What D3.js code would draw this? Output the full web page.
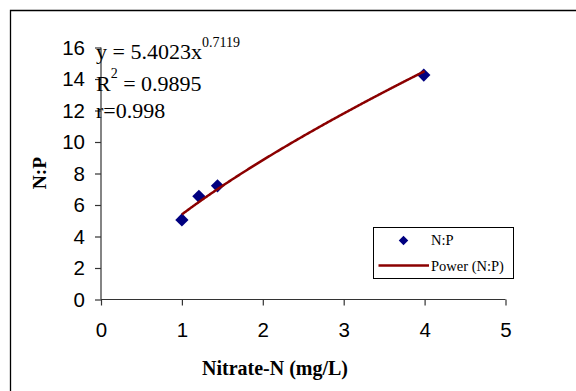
<!DOCTYPE html>
<html><head><meta charset="utf-8">
<script src="https://cdn.jsdelivr.net/npm/d3@7"></script>
<style>html,body{margin:0;padding:0;background:#fff;}svg{display:block;}</style>
</head><body>
<svg id="c" width="576" height="391"></svg>
<script>
const nitrate = [1.0, 1.21, 1.44, 3.99];
const ratioNP = [5.05, 6.55, 7.22, 14.25];
const xTicks = [0, 1, 2, 3, 4, 5];
const yTicks = [0, 2, 4, 6, 8, 10, 12, 14, 16];
const fitA = 5.4023, fitB = 0.7119;
const eqText = "y = 5.4023x", eqExp = "0.7119";
const r2Text = " = 0.9895", rText = "r=0.998";

const svg = d3.select("#c");
svg.append("rect").attr("width",576).attr("height",391).attr("fill","#fff");
svg.append("path").attr("d","M10.5,391 V10.5 H576").attr("fill","none").attr("stroke","#000").attr("stroke-width",1.3);

const x = d3.scaleLinear().domain([0,5]).range([101,505.5]);
const y = d3.scaleLinear().domain([0,16]).range([299.5,47.5]);

const gx = svg.append("g").attr("transform","translate(0,299.5)")
  .call(d3.axisBottom(x).tickValues(xTicks).tickSize(6).tickPadding(17).tickFormat(d3.format("d")));
const gy = svg.append("g").attr("transform","translate(101,0)")
  .call(d3.axisLeft(y).tickValues(yTicks).tickSize(6).tickPadding(10).tickFormat(d3.format("d")));
[gx,gy].forEach(g=>{
  g.selectAll("path,line").attr("stroke","#333").attr("stroke-width",1.2);
  g.selectAll("text").attr("font-family","Liberation Sans, Arial, sans-serif").attr("font-size",20.5).attr("fill","#000");
});
gx.select(".domain").attr("d","M101,0H505.5");
gy.select(".domain").attr("d","M0,299.5V47.5");

const trendX = d3.range(0, 301).map(i => 1 + i*0.01);
const line = d3.line().x(d=>x(d)).y(d=>y(fitA*Math.pow(d,fitB)));

const diamond = d3.symbol().type(d3.symbolDiamond2).size(112);
svg.selectAll(".pt").data(nitrate).enter().append("path")
  .attr("transform",(d,i)=>`translate(${x(d)},${y(ratioNP[i])})`)
  .attr("d",diamond).attr("fill","#000080");
svg.append("path").datum(trendX).attr("d",line).attr("fill","none").attr("stroke","#8b0000").attr("stroke-width",2.5);

const tf = "Liberation Serif, Times New Roman, serif";
const t1 = svg.append("text").attr("x",96).attr("y",58.5).attr("font-family",tf).attr("font-size",22);
t1.append("tspan").text(eqText);
t1.append("tspan").attr("font-size",14).attr("dy",-12).text(eqExp);
const t2 = svg.append("text").attr("x",96).attr("y",90.5).attr("font-family",tf).attr("font-size",22);
t2.append("tspan").text("R");
t2.append("tspan").attr("font-size",14).attr("dy",-13).text("2");
t2.append("tspan").attr("dy",13).text(r2Text);
svg.append("text").attr("x",96).attr("y",117.5).attr("font-family",tf).attr("font-size",22).text(rText);

svg.append("text").attr("x",275).attr("y",374.5).attr("text-anchor","middle")
  .attr("font-family",tf).attr("font-weight","bold").attr("font-size",20).text("Nitrate-N (mg/L)");
svg.append("text").attr("transform","translate(46,173) rotate(-90)").attr("text-anchor","middle")
  .attr("font-family",tf).attr("font-weight","bold").attr("font-size",19.5).text("N:P");

const lg = svg.append("g");
lg.append("rect").attr("x",373.5).attr("y",227.5).attr("width",140).attr("height",51)
  .attr("fill","#fff").attr("stroke","#000").attr("stroke-width",1);
lg.append("path").attr("transform","translate(403.5,240.5)").attr("d",d3.symbol().type(d3.symbolDiamond2).size(58)).attr("fill","#000080");
lg.append("text").attr("x",431).attr("y",245).attr("font-family",tf).attr("font-size",14.5).text("N:P");
lg.append("line").attr("x1",378.5).attr("x2",429).attr("y1",265.5).attr("y2",265.5).attr("stroke","#8b0000").attr("stroke-width",2.5);
lg.append("text").attr("x",431).attr("y",270.5).attr("font-family",tf).attr("font-size",14.5).text("Power (N:P)");
</script>
</body></html>
